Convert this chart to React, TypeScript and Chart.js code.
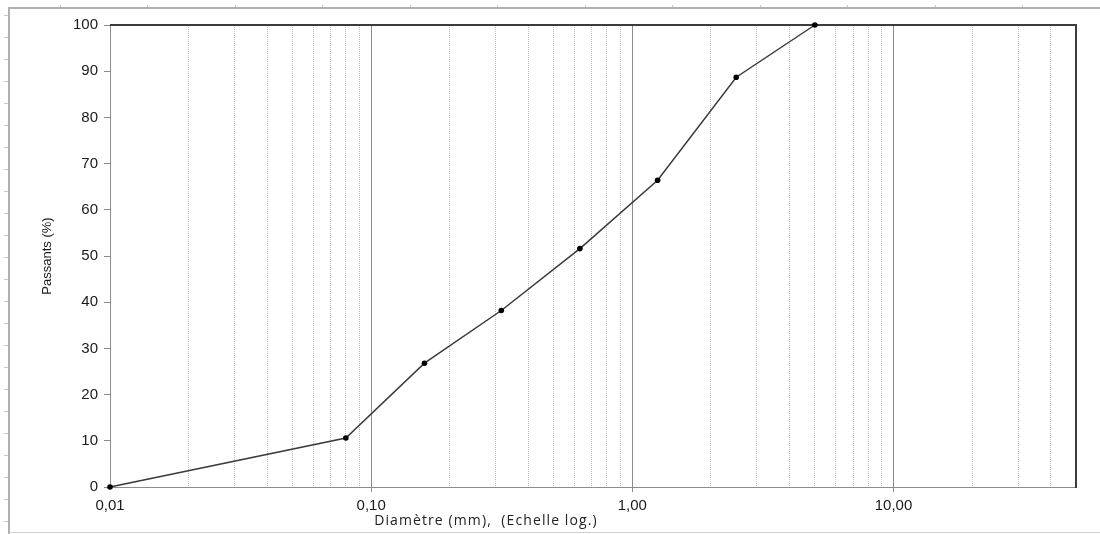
import React, { useEffect, useRef } from "react";
import { Chart, registerables } from "chart.js";

Chart.register(...registerables);

// ---- data ----
const diameters: number[] = [0.01, 0.08, 0.16, 0.315, 0.63, 1.25, 2.5, 5];
const passing: number[] = [0, 10.6, 26.8, 38.2, 51.6, 66.4, 88.7, 100];
const decades: number[] = [0.01, 0.1, 1, 10];
const decadeLabels: string[] = ["0,01", "0,10", "1,00", "10,00"];
const multipliers: number[] = [1, 2, 3, 4, 5, 6, 7, 8, 9];
const xMin = 0.01;
const xMax = 50;
const yMin = 0;
const yMax = 100;
const yStep = 10;
const xTitle = "Diamètre (mm),  (Echelle log.)";
const yTitle = "Passants (%)";

const isMajor = (v: number) => {
  const l = Math.log10(v);
  return Math.abs(l - Math.round(l)) < 1e-6;
};

const labelFor = (v: number) => {
  for (let i = 0; i < decades.length; i++) {
    if (Math.abs(decades[i] - v) / decades[i] < 1e-6) return decadeLabels[i];
  }
  return "";
};

const gridValues: number[] = [];
decades.forEach((d) => {
  multipliers.forEach((m) => {
    const v = parseFloat((d * m).toPrecision(6));
    if (v < xMax) gridValues.push(v);
  });
});

const framePlugin = {
  id: "frame",
  beforeDraw(chart: any) {
    const ctx = chart.ctx;
    const W = chart.width;
    const H = chart.height;
    ctx.save();
    ctx.fillStyle = "#ffffff";
    ctx.fillRect(0, 0, W, H);
    // window frame
    ctx.strokeStyle = "#b0b0b0";
    ctx.lineWidth = 2;
    ctx.beginPath();
    ctx.moveTo(9, H);
    ctx.lineTo(9, 8);
    ctx.lineTo(W, 8);
    ctx.stroke();
    ctx.strokeStyle = "#d0d0d0";
    ctx.lineWidth = 1;
    ctx.beginPath();
    ctx.moveTo(9, 532.5);
    ctx.lineTo(W, 532.5);
    ctx.stroke();
    // ruler marks
    ctx.strokeStyle = "#c0c8d8";
    ctx.beginPath();
    for (let y = 15; y < H; y += 22) {
      ctx.moveTo(4, y + 0.5);
      ctx.lineTo(8, y + 0.5);
    }
    for (let x = 59.5; x < W; x += 87.5) {
      ctx.moveTo(Math.round(x) + 0.5, 5);
      ctx.lineTo(Math.round(x) + 0.5, 7);
    }
    ctx.stroke();
    ctx.restore();
  },
  beforeDatasetsDraw(chart: any) {
    const { ctx, chartArea } = chart;
    ctx.save();
    ctx.strokeStyle = "#3c3c3c";
    ctx.lineWidth = 2;
    ctx.beginPath();
    ctx.moveTo(chartArea.left, chartArea.top);
    ctx.lineTo(chartArea.right, chartArea.top);
    ctx.lineTo(chartArea.right, chartArea.bottom + 1);
    ctx.stroke();
    ctx.restore();
  },
  afterDraw(chart: any) {
    const { ctx } = chart;
    const xs = chart.scales.x;
    ctx.save();
    ctx.font = '14px "Open Sans", sans-serif';
    (ctx as any).letterSpacing = "1.1px";
    ctx.fillStyle = "#222222";
    ctx.textAlign = "left";
    ctx.textBaseline = "middle";
    ctx.fillText(xTitle, xs.getPixelForValue(0.1) + 3, 521);
    ctx.restore();
  },
};

export default function App() {
  const ref = useRef<HTMLCanvasElement | null>(null);

  useEffect(() => {
    if (!ref.current) return;
    const chart = new Chart(ref.current, {
      type: "line",
      data: {
        datasets: [
          {
            data: diameters.map((d, i) => ({ x: d, y: passing[i] })),
            borderColor: "#3a3a3a",
            borderWidth: 1.5,
            pointRadius: 2.8,
            pointBackgroundColor: "#000000",
            pointBorderWidth: 0,
            tension: 0,
            clip: false as any,
          },
        ],
      },
      options: {
        animation: false,
        responsive: true,
        maintainAspectRatio: false,
        layout: { padding: { left: 40, top: 25, right: 24, bottom: 0 } },
        plugins: { legend: { display: false }, tooltip: { enabled: false } },
        scales: {
          x: {
            type: "logarithmic",
            min: xMin,
            max: xMax,
            afterBuildTicks: (scale: any) => {
              scale.ticks = gridValues.map((v) => ({ value: v, major: isMajor(v) }));
            },
            afterFit: (scale: any) => {
              scale.height = 47;
            },
            ticks: {
              autoSkip: false,
              maxRotation: 0,
              minRotation: 0,
              padding: 5,
              color: "#1a1a1a",
              font: { family: '"Liberation Sans", Arial, sans-serif', size: 15 },
              callback: (v: any) => labelFor(Number(v)),
            },
            grid: {
              color: (c: any) => (c.tick && isMajor(c.tick.value) ? "#8c8c8c" : "#c4c4c4"),
              lineWidth: 1,
              tickLength: 5,
              tickColor: (c: any) =>
                c.tick && isMajor(c.tick.value) && c.tick.value > xMin * 1.01 ? "#8c8c8c" : "rgba(0,0,0,0)",
            },
            border: {
              color: "#8c8c8c",
              width: 1,
              dash: (c: any) => (c.tick && !isMajor(c.tick.value) ? [1, 1] : []),
            },
          },
          y: {
            min: yMin,
            max: yMax,
            afterFit: (scale: any) => {
              scale.width = 70;
            },
            ticks: {
              stepSize: yStep,
              padding: 6,
              color: "#1a1a1a",
              font: { family: '"Liberation Sans", Arial, sans-serif', size: 15 },
            },
            grid: {
              drawOnChartArea: false,
              color: "#8c8c8c",
              tickLength: 6,
            },
            border: { color: "#8c8c8c", width: 1 },
            title: {
              display: true,
              text: yTitle,
              color: "#1a1a1a",
              font: { family: '"Liberation Sans Narrow", "Liberation Sans", Arial, sans-serif', size: 13 },
              padding: { top: 0, bottom: 0 },
            },
          },
        },
      },
      plugins: [framePlugin],
    } as any);
    return () => chart.destroy();
  }, []);

  return (
    <div style={{ position: "absolute", left: 0, top: 0, width: 1100, height: 534 }}>
      <canvas ref={ref} />
    </div>
  );
}
